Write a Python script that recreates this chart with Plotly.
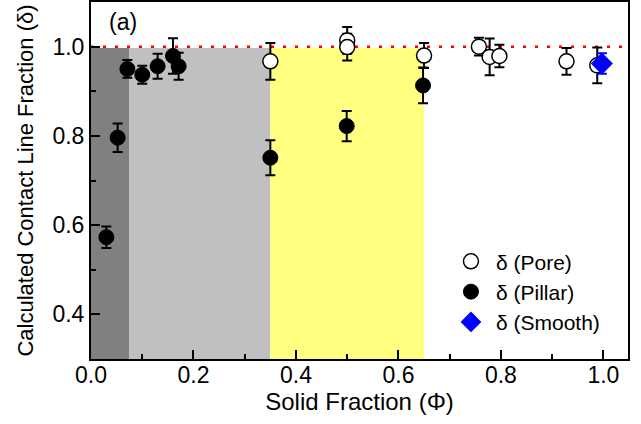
import plotly.graph_objects as go

# ---- data ----
pore_x = [0.350, 0.500, 0.500, 0.650, 0.757, 0.778, 0.797, 0.928, 0.988]
pore_y = [0.967, 1.014, 0.999, 0.980, 1.000, 0.977, 0.979, 0.967, 0.958]
pore_err = [0.041, 0.030, 0.030, 0.028, 0.020, 0.041, 0.025, 0.030, 0.040]

pillar_x = [0.030, 0.052, 0.071, 0.100, 0.130, 0.160, 0.171, 0.350, 0.499, 0.648]
pillar_y = [0.573, 0.796, 0.950, 0.937, 0.956, 0.979, 0.956, 0.751, 0.822, 0.913]
pillar_err = [0.024, 0.032, 0.020, 0.020, 0.028, 0.040, 0.030, 0.039, 0.034, 0.040]

smooth_x = [0.997]
smooth_y = [0.962]
smooth_err = [0.023]

region_edges = [0.0, 0.075, 0.35, 0.65]
region_colors = ["#808080", "#C0C0C0", "#FFFF80"]
region_top = 0.997
reference_level = 1.0

x_ticks = [0.0, 0.2, 0.4, 0.6, 0.8, 1.0]
y_ticks = [0.4, 0.6, 0.8, 1.0]

X_RANGE = [0, 1.048]
Y_RANGE = [0.3, 1.1]

FONT = "Liberation Sans, Arial, sans-serif"

fig = go.Figure()

fig.add_trace(go.Scatter(
    x=pore_x, y=pore_y, mode="markers", name="δ (Pore)",
    marker=dict(symbol="circle", size=15, color="white",
                line=dict(color="black", width=1.5)),
    error_y=dict(type="data", array=pore_err, color="black", thickness=2, width=5),
))
fig.add_trace(go.Scatter(
    x=pillar_x, y=pillar_y, mode="markers", name="δ (Pillar)",
    marker=dict(symbol="circle", size=15, color="black",
                line=dict(color="black", width=1)),
    error_y=dict(type="data", array=pillar_err, color="black", thickness=2, width=5),
))
fig.add_trace(go.Scatter(
    x=smooth_x, y=smooth_y, mode="markers", name="δ (Smooth)",
    marker=dict(symbol="diamond", size=17, color="#0000FF",
                line=dict(color="#0000FF", width=0)),
    error_y=dict(type="data", array=smooth_err, color="#0000FF", thickness=2, width=5),
))

shapes = []
for i, c in enumerate(region_colors):
    shapes.append(dict(type="rect", xref="x", yref="y",
                       x0=region_edges[i], x1=region_edges[i + 1],
                       y0=Y_RANGE[0], y1=region_top, fillcolor=c,
                       line=dict(width=0), layer="below"))
shapes.append(dict(type="line", xref="x", yref="y", x0=X_RANGE[0], x1=X_RANGE[1],
                   y0=reference_level, y1=reference_level,
                   line=dict(color="red", width=2.5, dash="3px,9px"), layer="below"))

fig.update_layout(
    width=641, height=424,
    margin=dict(l=91, r=13, t=2, b=65),
    paper_bgcolor="white", plot_bgcolor="white",
    font=dict(family=FONT, size=22, color="black"),
    shapes=shapes,
    showlegend=True,
    legend=dict(x=0.661, y=0.33, xanchor="left", yanchor="top",
                bgcolor="rgba(0,0,0,0)", font=dict(size=21),
                tracegroupgap=0, itemsizing="trace", itemwidth=40),
    annotations=[dict(text="(a)", x=0.03, y=0.985, xref="paper", yref="paper",
                      xanchor="left", yanchor="top", showarrow=False,
                      font=dict(size=23))],
)

fig.update_xaxes(
    range=X_RANGE, tickvals=x_ticks, ticktext=[f"{v:.1f}" for v in x_ticks],
    ticks="inside", ticklen=9, tickwidth=2, tickcolor="black",
    minor=dict(dtick=0.1, tick0=0.1, ticks="inside", ticklen=5, tickwidth=2, tickcolor="black"),
    showline=True, linewidth=2, linecolor="black", mirror=True,
    showgrid=False, zeroline=False, automargin=False,
    ticklabelstandoff=-6,
    title=dict(text="Solid Fraction (Φ)", standoff=4, font=dict(size=24)),
    tickfont=dict(size=23),
)
fig.update_yaxes(
    range=Y_RANGE, tickvals=y_ticks, ticktext=[f"{v:.1f}" for v in y_ticks],
    ticks="inside", ticklen=9, tickwidth=2, tickcolor="black",
    minor=dict(dtick=0.1, tick0=0.3, ticks="inside", ticklen=5, tickwidth=2, tickcolor="black"),
    showline=True, linewidth=2, linecolor="black", mirror=True,
    showgrid=False, zeroline=False, automargin=False,
    title=dict(text="Calculated Contact Line Fraction (δ)", standoff=13, font=dict(size=22)),
    tickfont=dict(size=23),
)

fig.write_html("out.html", config={"displayModeBar": False},
               post_script="document.body.style.margin='0';")
